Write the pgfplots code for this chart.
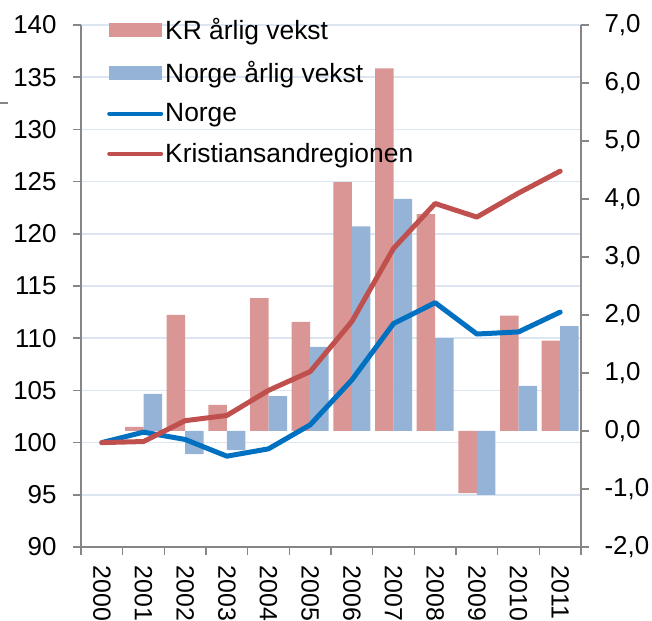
\documentclass[border=0pt]{standalone}
\usepackage{pgfplots}
\pgfplotsset{compat=1.18}
\usepackage{fontspec}
\setmainfont{Liberation Sans}
\definecolor{krbar}{HTML}{D99694}
\definecolor{nobar}{HTML}{95B3D7}
\definecolor{noline}{HTML}{0070C0}
\definecolor{krline}{HTML}{C0504D}
\definecolor{gridc}{HTML}{DCE6F2}
\definecolor{axc}{HTML}{868686}
\pgfplotsset{
  base/.style={
    scale only axis, width=500bp, height=522bp,
    at={(81bp,74bp)}, anchor=south west,
    xmin=-0.5, xmax=11.5,
    /pgf/number format/assume math mode=true,
    tick label style={font=\fontsize{26}{31}\selectfont, text=black},
    axis line style={draw=axc, line width=1.5bp},
    tick style={draw=axc, line width=1.5bp},
    tick align=outside,
    major tick length=8bp,
    clip=false,
  }
}
\begin{document}
\begin{tikzpicture}[x=1bp,y=1bp]
\path[use as bounding box] (0,0) rectangle (652,621);
\draw[axc, line width=1.5bp] (0,518) -- (8,518);
% axis 1: left scale, grid, x axis
\begin{axis}[base,
  ymin=90, ymax=140, ytick={90,95,...,140},
  axis y line*=left, axis x line*=bottom,
  ymajorgrids, major grid style={draw=gridc, line width=1.5bp},
  yticklabel style={xshift=-13bp},
  xtick={0,...,11},
  xticklabels={2000,2001,2002,2003,2004,2005,2006,2007,2008,2009,2010,2011},
  major x tick style={draw=none},
  minor xtick={-0.5,0.5,...,11.5}, minor tick length=8bp,
  minor x tick style={draw=axc, line width=1.5bp},
  xticklabel style={rotate=-90, anchor=west, xshift=7bp, font=\fontsize{25}{30}\selectfont},
]
\end{axis}
% axis 2: right scale, bars
\begin{axis}[base,
  ymin=-2, ymax=7, ytick={-2,-1,...,7},
  yticklabels={{-2,0},{-1,0},{0,0},{1,0},{2,0},{3,0},{4,0},{5,0},{6,0},{7,0}},
  yticklabel style={xshift=12bp},
  axis y line*=right, axis x line=none,
  ybar=0bp, bar width=18.5bp,
]
\addplot[fill=krbar, draw=none] coordinates {(1,0.07) (2,2.0) (3,0.45) (4,2.29) (5,1.88) (6,4.29) (7,6.25) (8,3.74) (9,-1.07) (10,1.99) (11,1.56)};
\addplot[fill=nobar, draw=none] coordinates {(1,0.64) (2,-0.40) (3,-0.33) (4,0.60) (5,1.45) (6,3.53) (7,4.0) (8,1.60) (9,-1.10) (10,0.78) (11,1.81)};
\end{axis}
% axis 3: lines + legend
\begin{axis}[base,
  ymin=90, ymax=140, hide axis,
  legend style={at={(axis description cs:0,1)}, anchor=north west, xshift=26bp, yshift=9bp,
    draw=none, fill=none, inner sep=0pt, row sep=16bp,
    font=\fontsize{26.5}{32}\selectfont},
  legend cell align=left,
  /tikz/every even column/.append style={column sep=0bp},
]
\addlegendimage{legend image code/.code={\fill[krbar] (0bp,-6.5bp) rectangle (52bp,6.5bp);}}
\addlegendentry{KR årlig vekst}
\addlegendimage{legend image code/.code={\fill[nobar] (0bp,-6.5bp) rectangle (52bp,6.5bp);}}
\addlegendentry{Norge årlig vekst}
\addplot[noline, line width=5bp, line cap=round, line join=round,
  legend image code/.code={\draw[noline, line width=4bp, line cap=round] (0bp,0bp) -- (52bp,0bp);}]
  coordinates {(0,100) (1,101.0) (2,100.3) (3,98.7) (4,99.4) (5,101.7) (6,106.0) (7,111.4) (8,113.4) (9,110.4) (10,110.6) (11,112.5)};
\addlegendentry{Norge}
\addplot[krline, line width=5bp, line cap=round, line join=round,
  legend image code/.code={\draw[krline, line width=4bp, line cap=round] (0bp,0bp) -- (52bp,0bp);}]
  coordinates {(0,100) (1,100.1) (2,102.1) (3,102.6) (4,105.0) (5,106.8) (6,111.6) (7,118.6) (8,122.9) (9,121.6) (10,123.9) (11,126.0)};
\addlegendentry{Kristiansandregionen}
\end{axis}
\end{tikzpicture}
\end{document}
